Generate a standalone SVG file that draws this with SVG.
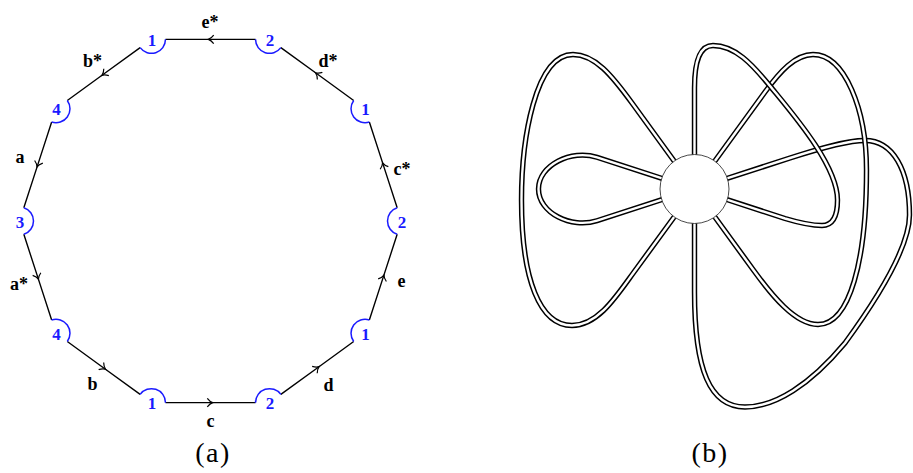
<svg xmlns="http://www.w3.org/2000/svg" width="913" height="473" viewBox="0 0 913 473">
<style>
.edge{stroke:#000;stroke-width:1.4;fill:none;marker-mid:url(#arr)}
.arc{stroke:#1a1aff;stroke-width:1.5;fill:none}
.vlab{font-family:"Liberation Serif",serif;font-weight:bold;font-size:17px;fill:#1a1aff;text-anchor:middle}
.elab{font-family:"Liberation Serif",serif;font-weight:bold;font-size:18px;fill:#000;text-anchor:middle}
.cap{font-family:"Liberation Serif",serif;font-size:28px;fill:#000;text-anchor:middle;letter-spacing:1.5px}
.bo{stroke:#000;stroke-width:5.4;fill:none}
.bi{stroke:#fff;stroke-width:2.4;fill:none}
</style>
<defs>
<marker id="arr" viewBox="-5 -5 10 10" markerWidth="10" markerHeight="10" markerUnits="userSpaceOnUse" refX="0" refY="0" orient="auto">
<path d="M-3.2,-4.3 Q-0.6,-0.9 2.2,0 Q-0.6,0.9 -3.2,4.3" fill="none" stroke="#000" stroke-width="1.2"/>
</marker>
</defs>
<rect width="913" height="473" fill="#fff"/>
<g id="panel-a">
<g id="connectors">
<path class="edge" d="M397.17,207.69 L383.26,164.87 L369.35,122.04"/>
<path class="edge" d="M353.69,100.50 L317.27,74.04 L280.85,47.58"/>
<path class="edge" d="M255.52,39.35 L210.5,39.35 L165.48,39.35"/>
<path class="edge" d="M140.15,47.58 L103.73,74.04 L67.31,100.50"/>
<path class="edge" d="M51.65,122.04 L37.74,164.87 L23.83,207.69"/>
<path class="edge" d="M23.83,234.31 L37.74,277.13 L51.65,319.96"/>
<path class="edge" d="M67.31,341.50 L103.73,367.96 L140.15,394.42"/>
<path class="edge" d="M165.48,402.65 L210.5,402.65 L255.52,402.65"/>
<path class="edge" d="M280.85,394.42 L317.27,367.96 L353.69,341.50"/>
<path class="edge" d="M369.35,319.96 L383.26,277.13 L397.17,234.31"/>
<text class="elab" x="402" y="175">c*</text>
<text class="elab" x="328" y="67">d*</text>
<text class="elab" x="210" y="28">e*</text>
<text class="elab" x="92.5" y="67">b*</text>
<text class="elab" x="20" y="163">a</text>
<text class="elab" x="19" y="290">a*</text>
<text class="elab" x="92.5" y="390">b</text>
<text class="elab" x="210.5" y="427">c</text>
<text class="elab" x="328.5" y="391">d</text>
<text class="elab" x="401.5" y="287">e</text>
</g>
<g id="v0"><path class="arc" d="M397.17,234.31 A14,14 0 0 1 397.17,207.69"/><text class="vlab" x="402" y="227.5">2</text></g>
<g id="v1"><path class="arc" d="M369.35,122.04 A14,14 0 0 1 353.69,100.50"/><text class="vlab" x="365.5" y="115.2">1</text></g>
<g id="v2"><path class="arc" d="M280.85,47.58 A14,14 0 0 1 255.52,39.35"/><text class="vlab" x="270" y="45.8">2</text></g>
<g id="v3"><path class="arc" d="M165.48,39.35 A14,14 0 0 1 140.15,47.58"/><text class="vlab" x="152" y="45.8">1</text></g>
<g id="v4"><path class="arc" d="M67.31,100.50 A14,14 0 0 1 51.65,122.04"/><text class="vlab" x="56.5" y="115.2">4</text></g>
<g id="v5"><path class="arc" d="M23.83,207.69 A14,14 0 0 1 23.83,234.31"/><text class="vlab" x="20" y="227.5">3</text></g>
<g id="v6"><path class="arc" d="M51.65,319.96 A14,14 0 0 1 67.31,341.50"/><text class="vlab" x="56.5" y="339.8">4</text></g>
<g id="v7"><path class="arc" d="M140.15,394.42 A14,14 0 0 1 165.48,402.65"/><text class="vlab" x="152" y="409.2">1</text></g>
<g id="v8"><path class="arc" d="M255.52,402.65 A14,14 0 0 1 280.85,394.42"/><text class="vlab" x="270" y="409.2">2</text></g>
<g id="v9"><path class="arc" d="M353.69,341.50 A14,14 0 0 1 369.35,319.96"/><text class="vlab" x="365.5" y="339.8">1</text></g>
<text class="cap" x="213" y="462">(a)</text>
</g>
<g id="panel-b">
<g id="bands">
<g id="band-e">
<path class="bo" d="M723.03,179.73 L790,158 C814.7,150 845,140.5 865,140.5 C893,140.5 909.5,170 909.5,215 C909.5,245 880,295 845,343 C810,385 775,407 745,407 C710,407 694.5,370 694.5,292 L694.5,219"/>
<path class="bi" d="M723.03,179.73 L790,158 C814.7,150 845,140.5 865,140.5 C893,140.5 909.5,170 909.5,215 C909.5,245 880,295 845,343 C810,385 775,407 745,407 C710,407 694.5,370 694.5,292 L694.5,219"/>
</g>
<g id="band-d">
<path class="bo" d="M712.13,164.73 L765,92 C779.7,71.8 795,54.5 813,54.5 C845,54.5 866.5,110 866.5,170 C866.5,260 850,324.5 818,324.5 C795,324.5 771,294.3 753.4,270 L712.13,213.27"/>
<path class="bi" d="M712.13,164.73 L765,92 C779.7,71.8 795,54.5 813,54.5 C845,54.5 866.5,110 866.5,170 C866.5,260 850,324.5 818,324.5 C795,324.5 771,294.3 753.4,270 L712.13,213.27"/>
</g>
<g id="band-c">
<path class="bo" d="M694.5,159 L694.5,88 C694.5,60 700,45.5 713,45.5 C735,45.5 752,64 770,86 C792,113 837.5,165 837.5,200 C837.5,218 832,225.5 822,225.5 C810,225.5 800,223 785,218.5 L723.03,198.27"/>
<path class="bi" d="M694.5,159 L694.5,88 C694.5,60 700,45.5 713,45.5 C735,45.5 752,64 770,86 C792,113 837.5,165 837.5,200 C837.5,218 832,225.5 822,225.5 C810,225.5 800,223 785,218.5 L723.03,198.27"/>
</g>
<g id="band-b">
<path class="bo" d="M676.87,164.73 L632,103 C612,75.5 595,54.5 573,54.5 C535,54.5 521.5,140 521.5,200 C521.5,280 540,325.5 572,325.5 C598,325.5 616.4,296.3 634,272 L676.87,213.27"/>
<path class="bi" d="M676.87,164.73 L632,103 C612,75.5 595,54.5 573,54.5 C535,54.5 521.5,140 521.5,200 C521.5,280 540,325.5 572,325.5 C598,325.5 616.4,296.3 634,272 L676.87,213.27"/>
</g>
<g id="band-a">
<path class="bo" d="M665.97,179.73 L597,157.3 C571.3,149 538.5,165 538.5,189 C538.5,213 571.3,229 597,220.7 L665.97,198.27"/>
<path class="bi" d="M665.97,179.73 L597,157.3 C571.3,149 538.5,165 538.5,189 C538.5,213 571.3,229 597,220.7 L665.97,198.27"/>
</g>
</g>
<g id="disk"><circle cx="694.5" cy="189" r="34.5" fill="#fff" stroke="#333" stroke-width="0.9"/></g>
<text class="cap" x="710" y="462">(b)</text>
</g>
</svg>
